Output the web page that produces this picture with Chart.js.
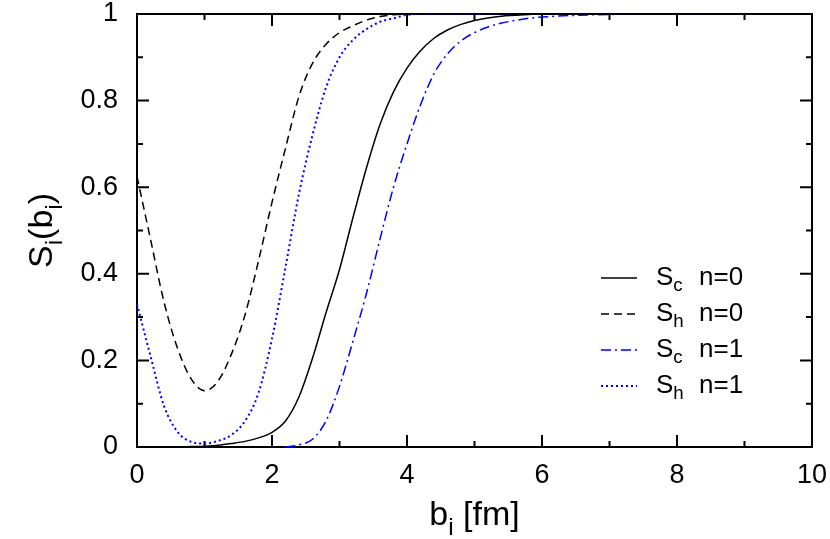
<!DOCTYPE html>
<html>
<head>
<meta charset="utf-8">
<title>S_i(b_i)</title>
<script src="https://cdn.jsdelivr.net/npm/chart.js@4.4.0/dist/chart.umd.min.js"></script>
<style>
  html, body { margin: 0; padding: 0; background: #fff; }
  #wrap { width: 830px; height: 539px; }
</style>
</head>
<body>
<div id="wrap"><canvas id="sChart" width="830" height="539"></canvas></div>
<script>
// b_i [fm] sample points
const bGrid = [0, 0.2, 0.4, 0.6, 0.8, 1.0, 1.2, 1.4, 1.6, 1.8, 2.0, 2.2, 2.4, 2.6, 2.8,
  3.0, 3.2, 3.4, 3.6, 3.8, 4.0, 4.2, 4.4, 4.6, 4.8, 5.0, 5.2, 5.4, 5.6, 5.8, 6.0, 7, 8, 9, 10];

// S_c n=0 (solid black)
const scN0 = [0, 0, 0, 0, 0.001, 0.002, 0.004, 0.008, 0.013, 0.021, 0.034, 0.06, 0.116, 0.205, 0.31,
  0.41, 0.53, 0.645, 0.745, 0.82, 0.875, 0.915, 0.944, 0.963, 0.976, 0.985, 0.991, 0.995, 0.997, 0.999, 1, 1, 1, 1, 1];
// S_h n=0 (dashed black)
const shN0 = [0.625, 0.48, 0.335, 0.228, 0.158, 0.13, 0.152, 0.215, 0.305, 0.43, 0.565, 0.69, 0.81, 0.886, 0.93,
  0.957, 0.973, 0.986, 0.994, 0.998, 1, 1, 1, 1, 1, 1, 1, 1, 1, 1, 1, 1, 1, 1, 1];
// S_c n=1 (dash-dot blue), not visible below b = 2.2
const scN1 = [null, null, null, null, null, null, null, null, null, null, null, 0, 0.005, 0.018, 0.06,
  0.14, 0.245, 0.355, 0.48, 0.60, 0.70, 0.79, 0.862, 0.908, 0.938, 0.957, 0.97, 0.979, 0.985, 0.99, 0.993, 0.999, 1, 1, 1];
// S_h n=1 (dotted blue)
const shN1 = [0.33, 0.21, 0.095, 0.035, 0.012, 0.008, 0.014, 0.028, 0.06, 0.125, 0.25, 0.415, 0.585, 0.72, 0.83,
  0.90, 0.94, 0.965, 0.982, 0.99, 0.998, 1, 1, 1, 1, 1, 1, 1, 1, 1, 1, 1, 1, 1, 1];

const xTicks = [0, 1, 2, 3, 4, 5, 6, 7, 8, 9, 10];
const yTicks = [0, 0.1, 0.2, 0.3, 0.4, 0.5, 0.6, 0.7, 0.8, 0.9, 1];

const FONT = '"Liberation Sans", Arial, Helvetica, sans-serif';

function pts(ys) {
  return bGrid.map((b, i) => ({ x: b, y: ys[i] }));
}

const series = [
  { sub: 'c', n: 0, data: scN0, color: '#000000', dash: [], width: 1.5 },
  { sub: 'h', n: 0, data: shN0, color: '#000000', dash: [8, 5], width: 1.5 },
  { sub: 'c', n: 1, data: scN1, color: '#0000ff', dash: [10, 4, 2, 4], width: 1.5 },
  { sub: 'h', n: 1, data: shN1, color: '#0000ff', dash: [2, 3], width: 2 },
];

// draws text pieces, some as subscripts
function drawRich(ctx, parts, x, y, size) {
  let cx = x;
  parts.forEach(p => {
    const s = p.sub ? size * 0.72 : size;
    ctx.font = s + 'px ' + FONT;
    ctx.fillText(p.t, cx, y + (p.sub ? size * 0.3 : 0));
    cx += ctx.measureText(p.t).width;
  });
  return cx - x;
}
function richWidth(ctx, parts, size) {
  let w = 0;
  parts.forEach(p => {
    ctx.font = (p.sub ? size * 0.72 : size) + 'px ' + FONT;
    w += ctx.measureText(p.t).width;
  });
  return w;
}

const decorations = {
  id: 'decorations',
  beforeDatasetsDraw(chart) {
    const { ctx, chartArea: a, scales: { x, y } } = chart;
    ctx.save();
    ctx.strokeStyle = '#000';
    ctx.lineWidth = 2;
    ctx.setLineDash([]);
    ctx.strokeRect(a.left, a.top, a.right - a.left, a.bottom - a.top);

    // inward ticks on all four sides
    ctx.beginPath();
    xTicks.forEach(v => {
      const px = x.getPixelForValue(v);
      const len = v % 2 === 0 ? 12 : 6;
      ctx.moveTo(px, a.bottom); ctx.lineTo(px, a.bottom - len);
      ctx.moveTo(px, a.top); ctx.lineTo(px, a.top + len);
    });
    yTicks.forEach((v, i) => {
      const py = y.getPixelForValue(v);
      const len = i % 2 === 0 ? 12 : 6;
      ctx.moveTo(a.left, py); ctx.lineTo(a.left + len, py);
      ctx.moveTo(a.right, py); ctx.lineTo(a.right - len, py);
    });
    ctx.stroke();
    ctx.restore();
  },
  afterDraw(chart) {
    const { ctx, chartArea: a } = chart;
    ctx.save();
    // legend
    ctx.fillStyle = '#000';
    ctx.textBaseline = 'middle';
    const rowY = [278, 314, 350, 386];
    series.forEach((s, i) => {
      ctx.strokeStyle = s.color;
      ctx.lineWidth = s.width;
      ctx.setLineDash(s.dash);
      ctx.beginPath();
      ctx.moveTo(601, rowY[i]); ctx.lineTo(637, rowY[i]);
      ctx.stroke();
      ctx.setLineDash([]);
      drawRich(ctx, [{ t: 'S' }, { t: s.sub, sub: true }], 656, rowY[i], 26);
      ctx.font = '26px ' + FONT;
      ctx.fillText('n=' + s.n, 699, rowY[i]);
    });

    // axis titles
    ctx.textBaseline = 'alphabetic';
    const xt = [{ t: 'b' }, { t: 'i', sub: true }, { t: ' [fm]' }];
    const xw = richWidth(ctx, xt, 34);
    drawRich(ctx, xt, (a.left + a.right) / 2 - xw / 2, 525, 34);

    const yt = [{ t: 'S' }, { t: 'i', sub: true }, { t: '(b' }, { t: 'i', sub: true }, { t: ')' }];
    const yw = richWidth(ctx, yt, 34);
    ctx.translate(52, (a.top + a.bottom) / 2);
    ctx.rotate(-Math.PI / 2);
    drawRich(ctx, yt, -yw / 2, 0, 34);
    ctx.restore();
  }
};

function noPadding(scale) {
  scale.paddingTop = 0; scale.paddingBottom = 0;
  scale.paddingLeft = 0; scale.paddingRight = 0;
}

new Chart(document.getElementById('sChart').getContext('2d'), {
  type: 'line',
  data: {
    datasets: series.map(s => ({
      label: 'S' + s.sub + ' n=' + s.n,
      data: pts(s.data),
      borderColor: s.color,
      borderWidth: s.width,
      borderDash: s.dash,
      pointRadius: 0,
      cubicInterpolationMode: 'monotone',
      spanGaps: false,
      fill: false,
    })),
  },
  options: {
    responsive: false,
    animation: false,
    layout: { padding: { top: 14, right: 18, left: 0, bottom: 0 } },
    plugins: { legend: { display: false }, tooltip: { enabled: false } },
    scales: {
      x: {
        type: 'linear',
        min: 0, max: 10,
        grid: { display: false, drawTicks: false },
        border: { display: false },
        ticks: { stepSize: 2, padding: 12, color: '#000', font: { family: FONT, size: 27 } },
        afterFit(scale) { scale.height = 92; noPadding(scale); },
      },
      y: {
        min: 0, max: 1,
        grid: { display: false, drawTicks: false },
        border: { display: false },
        ticks: {
          stepSize: 0.2, padding: 19, color: '#000', font: { family: FONT, size: 27 },
          callback: v => String(Number(v.toFixed(1))),
        },
        afterFit(scale) { scale.width = 137; noPadding(scale); },
      },
    },
  },
  plugins: [decorations],
});
</script>
</body>
</html>
